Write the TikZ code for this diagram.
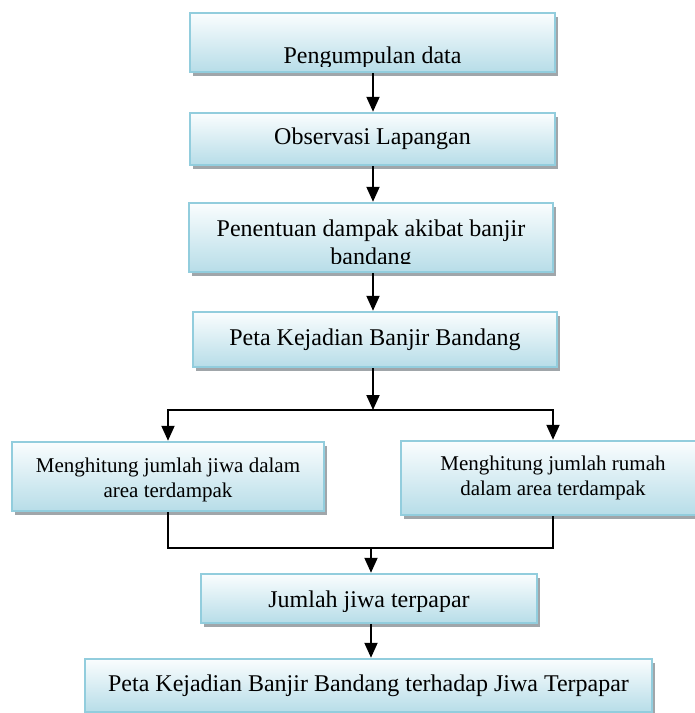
\documentclass[tikz,border=0pt]{standalone}
\usepackage{fontspec}
\setmainfont{Liberation Serif}
\definecolor{boxline}{RGB}{146, 205, 221}
\definecolor{boxtop}{RGB}{250, 253, 254}
\definecolor{boxbottom}{RGB}{183, 221, 232}
\definecolor{shadowgray}{RGB}{160, 166, 170}
\usetikzlibrary{arrows.meta, shadows}

\begin{document}
\begin{tikzpicture}[x=1pt, y=-1pt,
    box/.style={rectangle, draw=boxline, line width=2.5pt, top color=boxtop, bottom color=boxbottom,
        drop shadow={shadow xshift=3pt, shadow yshift=-4pt, fill=shadowgray, opacity=1},
        inner sep=0pt, align=center, font=\fontsize{24}{28}\selectfont},
    txt/.style={inner sep=0pt, align=center, font=\fontsize{24}{28}\selectfont},
    small/.style={font=\fontsize{21}{24.5}\selectfont},
    arrow/.style={-{Triangle[length=15pt, width=13pt]}, line width=2pt},
    link/.style={line width=2pt}
]
    \useasboundingbox (0,0) rectangle (695,713);

    % boxes
    \node[box, minimum width=365pt, minimum height=59pt] (collect) at (372.5,42.5) {};
    \node[box, minimum width=365pt, minimum height=52pt] (survey) at (372.5,139) {Observasi Lapangan};
    \node[box, minimum width=364pt, minimum height=69pt] (impact) at (371,237.5) {};
    \node[box, minimum width=364pt, minimum height=55pt] (map) at (375,339.5) {Peta Kejadian Banjir Bandang};
    \node[box, minimum width=312pt, minimum height=69pt] (people) at (168,476.5) {};
    \node[box, small, minimum width=304pt, minimum height=74pt] (houses) at (553,478) {Menghitung jumlah rumah\\dalam area terdampak};
    \node[box, minimum width=336pt, minimum height=49pt] (exposed) at (369,598.5) {};
    \node[box, minimum width=567pt, minimum height=53pt] (result) at (368.5,685.5) {Peta Kejadian Banjir Bandang terhadap Jiwa Terpapar};

    % texts cut off at the lower edge
    \begin{scope}
        \clip (collect.north west) rectangle ([yshift=7pt]collect.south east);
        \node[txt] (collecttext) at ([yshift=-15pt]collect.center) {Pengumpulan data};
    \end{scope}
    \begin{scope}
        \clip (impact.north west) rectangle ([yshift=10pt]impact.south east);
        \node[txt] (impacttext) at ([yshift=-7.5pt]impact.center) {Penentuan dampak akibat banjir\\bandang};
    \end{scope}
    \begin{scope}
        \clip (people.north west) rectangle ([yshift=11pt]people.south east);
        \node[txt, small] (peopletext) at ([yshift=-3.5pt]people.center) {Menghitung jumlah jiwa dalam\\area terdampak};
    \end{scope}
    \begin{scope}
        \clip (exposed.north west) rectangle ([yshift=13pt]exposed.south east);
        \node[txt] (exposedtext) at ([yshift=-3pt]exposed.center) {Jumlah jiwa terpapar};
    \end{scope}

    % connectors
    \coordinate (split) at (373,410);
    \coordinate (join) at (371,548);
    \draw[arrow] (collect.south -| split) -- (survey.north -| split);
    \draw[arrow] (survey.south -| split) -- (impact.north -| split);
    \draw[arrow] (impact.south -| split) -- (map.north -| split);
    \draw[arrow] (map.south -| split) -- (split);
    \draw[arrow] (split) -| (people.north);
    \draw[arrow] (split) -| (houses.north);
    \draw[link] (people.south) |- (join) -| (houses.south);
    \draw[arrow] (join) -- (exposed.north -| join);
    \draw[arrow] (exposed.south -| join) -- (result.north -| join);
\end{tikzpicture}
\end{document}
